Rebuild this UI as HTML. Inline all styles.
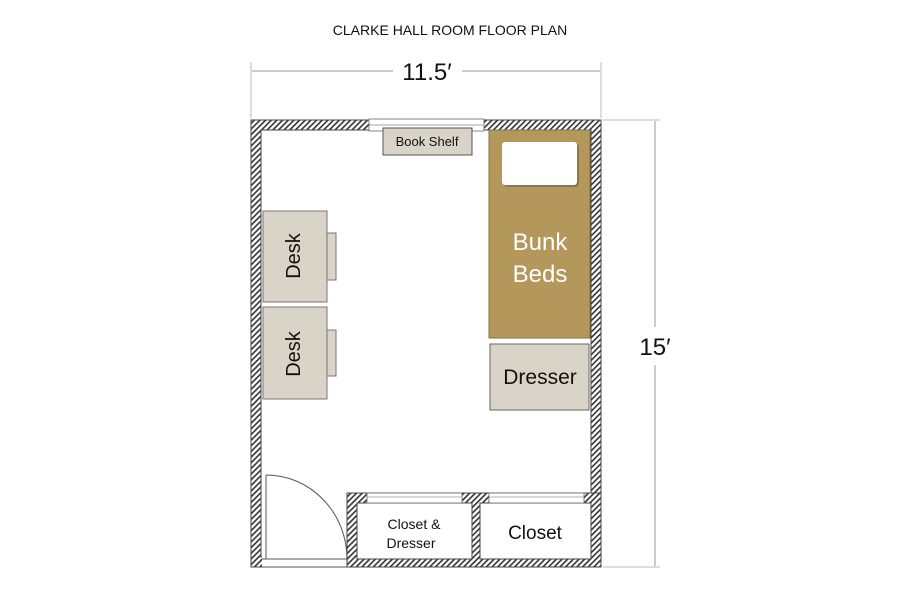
<!DOCTYPE html>
<html><head><meta charset="utf-8"><style>
html,body{margin:0;padding:0;background:#fff;}
svg{display:block;}
text{font-family:"Liberation Sans",sans-serif;fill:#111;}
</style></head><body>
<svg width="900" height="600" viewBox="0 0 900 600" xmlns="http://www.w3.org/2000/svg">
<defs>
<pattern id="h" width="4" height="4" patternUnits="userSpaceOnUse" patternTransform="rotate(45)">
<rect width="4" height="4" fill="#fff"/><rect width="1.6" height="4" fill="#333"/>
</pattern>
</defs>
<text x="450" y="35" font-size="14" text-anchor="middle">CLARKE HALL ROOM FLOOR PLAN</text>
<!-- dimension top -->
<line x1="251" y1="62" x2="251" y2="118" stroke="#bbb" stroke-width="1"/>
<line x1="601" y1="62" x2="601" y2="118" stroke="#bbb" stroke-width="1"/>
<line x1="252" y1="71" x2="393" y2="71" stroke="#999" stroke-width="1"/>
<line x1="462" y1="71" x2="600" y2="71" stroke="#999" stroke-width="1"/>
<text x="427" y="80" font-size="24" text-anchor="middle">11.5′</text>
<!-- dimension right -->
<line x1="603" y1="120" x2="660" y2="120" stroke="#bbb" stroke-width="1"/>
<line x1="603" y1="567" x2="660" y2="567" stroke="#bbb" stroke-width="1"/>
<line x1="655" y1="121" x2="655" y2="327" stroke="#999" stroke-width="1"/>
<line x1="655" y1="365" x2="655" y2="566" stroke="#999" stroke-width="1"/>
<text x="655" y="355" font-size="24" text-anchor="middle">15′</text>
<!-- walls -->
<rect x="251" y="120" width="350" height="447" fill="url(#h)" stroke="#444" stroke-width="1"/>
<rect x="261" y="130" width="330" height="427" fill="#fff" stroke="#444" stroke-width="1"/>
<!-- window top -->
<rect x="369" y="119" width="115" height="12" fill="#fff" stroke="#666" stroke-width="0.8"/>
<line x1="369" y1="125" x2="484" y2="125" stroke="#888" stroke-width="0.8"/>
<!-- door opening bottom-left -->
<rect x="262" y="556" width="85" height="12" fill="#fff"/>
<line x1="262" y1="559" x2="347" y2="559" stroke="#555" stroke-width="1"/>
<line x1="262" y1="567" x2="347" y2="567" stroke="#555" stroke-width="1"/>
<line x1="266" y1="475" x2="266" y2="559" stroke="#555" stroke-width="1"/>
<path d="M266 475 A81 84 0 0 1 347 559" fill="none" stroke="#555" stroke-width="1"/>
<!-- closets -->
<rect x="347" y="493" width="254" height="74" fill="url(#h)" stroke="#444" stroke-width="1"/>
<rect x="357" y="503" width="115" height="56" fill="#fff" stroke="#444" stroke-width="1"/>
<rect x="480" y="503" width="111" height="56" fill="#fff" stroke="#444" stroke-width="1"/>
<rect x="367" y="493" width="95" height="10" fill="#fff" stroke="#666" stroke-width="0.8"/>
<line x1="367" y1="497" x2="462" y2="497" stroke="#999" stroke-width="0.8"/>
<rect x="489" y="493" width="95" height="10" fill="#fff" stroke="#666" stroke-width="0.8"/>
<line x1="489" y1="497" x2="584" y2="497" stroke="#999" stroke-width="0.8"/>
<text x="414" y="529" font-size="14" text-anchor="middle">Closet &amp;</text>
<text x="411" y="548" font-size="14" text-anchor="middle">Dresser</text>
<text x="535" y="539" font-size="19" text-anchor="middle">Closet</text>
<!-- book shelf -->
<rect x="383" y="128" width="89" height="27" fill="#d9d3c8" stroke="#555" stroke-width="1"/>
<text x="427" y="146" font-size="13" text-anchor="middle">Book Shelf</text>
<!-- bunk beds -->
<rect x="489" y="130" width="101" height="208" fill="#b4975a" stroke="#8a7040" stroke-width="1"/>
<rect x="504" y="144" width="75" height="43" rx="3" fill="#7a6235" opacity="0.6"/>
<rect x="502" y="142" width="75" height="43" rx="3" fill="#fff"/>
<text x="540" y="250" font-size="24" text-anchor="middle" style="fill:#fff">Bunk</text>
<text x="540" y="282" font-size="24" text-anchor="middle" style="fill:#fff">Beds</text>
<!-- dresser -->
<rect x="490" y="344" width="99" height="66" fill="#d9d3c8" stroke="#666" stroke-width="1"/>
<text x="540" y="384" font-size="21" text-anchor="middle">Dresser</text>
<!-- desks -->
<rect x="327" y="233" width="9" height="47" fill="#d9d3c8" stroke="#777" stroke-width="1"/>
<rect x="263" y="211" width="64" height="91" fill="#d9d3c8" stroke="#777" stroke-width="1"/>
<text transform="translate(300,256) rotate(-90)" font-size="20" text-anchor="middle">Desk</text>
<rect x="327" y="330" width="9" height="46" fill="#d9d3c8" stroke="#777" stroke-width="1"/>
<rect x="263" y="307" width="64" height="92" fill="#d9d3c8" stroke="#777" stroke-width="1"/>
<text transform="translate(300,354) rotate(-90)" font-size="20" text-anchor="middle">Desk</text>
</svg>
</body></html>
